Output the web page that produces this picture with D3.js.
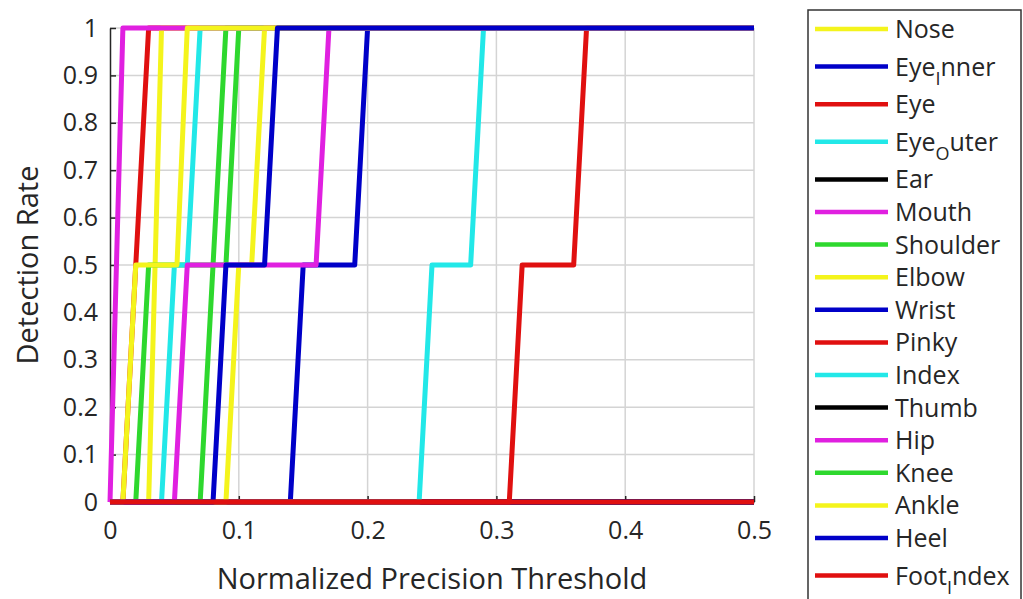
<!DOCTYPE html>
<html>
<head>
<meta charset="utf-8">
<script src="https://cdn.jsdelivr.net/npm/d3@7"></script>
<style>
  html, body { margin: 0; padding: 0; background: #fff; }
  svg { display: block; }
  text { font-family: "Open Sans", "DejaVu Sans", sans-serif; fill: #262626; }
</style>
</head>
<body>
<svg id="chart" width="1023" height="599"></svg>
<script>
// Axis ticks
const xTicks = [0, 0.1, 0.2, 0.3, 0.4, 0.5];
const yTicks = [0, 0.1, 0.2, 0.3, 0.4, 0.5, 0.6, 0.7, 0.8, 0.9, 1];

// Landmark names (legend order); "_" marks a subscript letter
const landmarks = ["Nose", "Eye_Inner", "Eye", "Eye_Outer", "Ear", "Mouth", "Shoulder",
  "Elbow", "Wrist", "Pinky", "Index", "Thumb", "Hip", "Knee", "Ankle", "Heel", "Foot_Index"];

const lineColors = ["#f4f41c", "#0000c8", "#e01010", "#22e8e8", "#000000", "#e020e0", "#2ed82e",
  "#f4f41c", "#0000c8", "#e01010", "#22e8e8", "#000000", "#e020e0", "#2ed82e",
  "#f4f41c", "#0000c8", "#e01010"];

// Detection-rate curves: [threshold, rate] pairs per landmark
const nose      = [[0, 0], [0.03, 0], [0.04, 1], [0.5, 1]];
const eyeInner  = [[0, 0], [0.14, 0], [0.15, 0.5], [0.19, 0.5], [0.20, 1], [0.5, 1]];
const eye       = [[0, 0], [0.01, 0], [0.02, 0.5], [0.03, 1], [0.5, 1]];
const eyeOuter  = [[0, 0], [0.04, 0], [0.05, 0.5], [0.06, 0.5], [0.07, 1], [0.5, 1]];
const ear       = [[0, 0], [0.5, 0]];
const mouth     = [[0, 0], [0.05, 0], [0.06, 0.5], [0.16, 0.5], [0.17, 1], [0.5, 1]];
const shoulder  = [[0, 0], [0.02, 0], [0.03, 0.5], [0.09, 0.5], [0.10, 1], [0.5, 1]];
const elbow     = [[0, 0], [0.09, 0], [0.10, 0.5], [0.11, 0.5], [0.12, 1], [0.5, 1]];
const wrist     = [[0, 0], [0.5, 0]];
const pinky     = [[0, 0], [0.5, 0]];
const index     = [[0, 0], [0.24, 0], [0.25, 0.5], [0.28, 0.5], [0.29, 1], [0.5, 1]];
const thumb     = [[0, 0], [0.5, 0]];
const hip       = [[0, 0], [0.01, 1], [0.5, 1]];
const knee      = [[0, 0], [0.07, 0], [0.08, 0.5], [0.09, 1], [0.5, 1]];
const ankle     = [[0, 0], [0.01, 0], [0.02, 0.5], [0.052, 0.5], [0.06, 1], [0.5, 1]];
const heel      = [[0, 0], [0.08, 0], [0.09, 0.5], [0.12, 0.5], [0.13, 1], [0.5, 1]];
const footIndex = [[0, 0], [0.31, 0], [0.32, 0.5], [0.36, 0.5], [0.37, 1], [0.5, 1]];

const curves = [nose, eyeInner, eye, eyeOuter, ear, mouth, shoulder, elbow, wrist,
  pinky, index, thumb, hip, knee, ankle, heel, footIndex];

// Stacking order of the plotted curves (later ones on top)
const drawOrder = ["Ear", "Thumb", "Wrist", "Eye", "Nose", "Eye_Inner", "Shoulder", "Eye_Outer",
  "Knee", "Elbow", "Index", "Foot_Index", "Mouth", "Hip", "Ankle", "Heel", "Pinky"];

const svg = d3.select("#chart");
const margin = { left: 110, right: 269, top: 28, bottom: 97 };
const W = 1023, H = 599;

const x = d3.scaleLinear().domain([0, 0.5]).range([margin.left, W - margin.right]);
const y = d3.scaleLinear().domain([0, 1]).range([H - margin.bottom, margin.top]);

// Grid
const grid = svg.append("g").attr("stroke", "#d4d4d4").attr("stroke-width", 1.5);
grid.selectAll("line.v").data(xTicks.filter(d => d > 0)).join("line")
  .attr("class", "v")
  .attr("x1", d => x(d)).attr("x2", d => x(d))
  .attr("y1", y(0)).attr("y2", y(1));
grid.selectAll("line.h").data(yTicks.filter(d => d > 0)).join("line")
  .attr("class", "h")
  .attr("x1", x(0)).attr("x2", x(0.5))
  .attr("y1", d => y(d)).attr("y2", d => y(d));

// Axes (ticks pointing inward)
const xAxis = svg.append("g")
  .attr("transform", `translate(0,${y(0)})`)
  .call(d3.axisBottom(x).tickValues(xTicks).tickFormat(d => String(d))
    .tickSize(-6).tickSizeOuter(0).tickPadding(19));
const yAxis = svg.append("g")
  .attr("transform", `translate(${x(0)},0)`)
  .call(d3.axisLeft(y).tickValues(yTicks).tickFormat(d => String(d))
    .tickSize(-6).tickSizeOuter(0).tickPadding(12));
[xAxis, yAxis].forEach(a => {
  a.selectAll("path, line").attr("stroke", "#262626").attr("stroke-width", 1.5);
  a.selectAll("text").attr("font-size", 25).attr("fill", "#262626")
    .style("font-family", "'Open Sans', sans-serif");
});

// Curves
const line = d3.line().x(d => x(d[0])).y(d => y(d[1]));
const plot = svg.append("g").attr("fill", "none").attr("stroke-width", 5)
  .attr("stroke-linejoin", "round");
drawOrder.forEach(name => {
  const i = landmarks.indexOf(name);
  plot.append("path")
    .datum(curves[i])
    .attr("stroke", lineColors[i])
    .attr("d", line);
});

// Axis titles
svg.append("text")
  .attr("x", (x(0) + x(0.5)) / 2).attr("y", 589)
  .attr("text-anchor", "middle").attr("font-size", 29)
  .text("Normalized Precision Threshold");
svg.append("text")
  .attr("transform", `translate(38,${(y(0) + y(1)) / 2}) rotate(-90)`)
  .attr("text-anchor", "middle").attr("font-size", 29)
  .text("Detection Rate");

// Legend
const legend = svg.append("g");
legend.append("rect")
  .attr("x", 808).attr("y", 10).attr("width", 213).attr("height", 595)
  .attr("fill", "#fff").attr("stroke", "#333").attr("stroke-width", 1.5);

const hasSub = landmarks.map(n => n.includes("_"));
const rowY = [];
landmarks.forEach((n, i) => {
  if (i === 0) rowY.push(29);
  else rowY.push(rowY[i - 1] + 32.6 + ((hasSub[i] || hasSub[i - 1]) ? 5 : 0));
});

landmarks.forEach((name, i) => {
  const g = legend.append("g").attr("transform", `translate(0,${rowY[i]})`);
  g.append("line")
    .attr("x1", 815).attr("x2", 888).attr("y1", 0).attr("y2", 0)
    .attr("stroke", lineColors[i]).attr("stroke-width", 4.5);
  const t = g.append("text").attr("x", 895).attr("y", 9).attr("font-size", 25);
  if (name.includes("_")) {
    const [head, tail] = name.split("_");
    t.append("tspan").text(head);
    t.append("tspan").attr("font-size", 18).attr("dy", 9).text(tail[0]);
    t.append("tspan").attr("dy", -9).text(tail.slice(1));
  } else {
    t.text(name);
  }
});
</script>
</body>
</html>
